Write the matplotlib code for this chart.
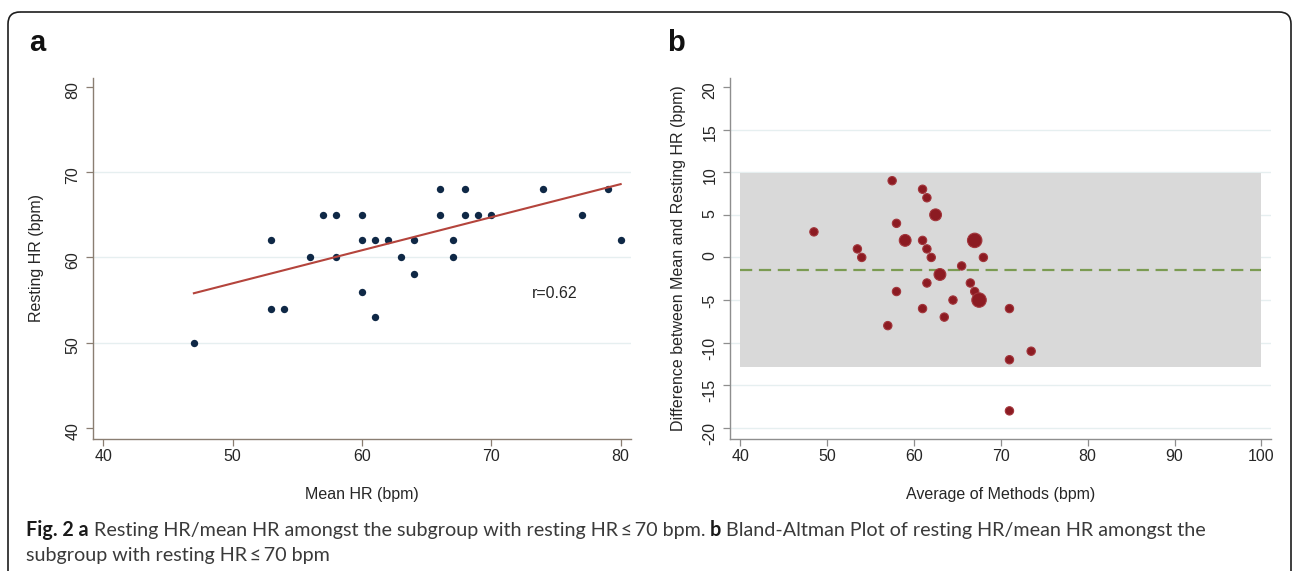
import matplotlib
matplotlib.use("Agg")
import matplotlib.pyplot as plt
from matplotlib.patches import FancyBboxPatch

plt.rcParams["axes.unicode_minus"] = False

# ---------------- data: panel a ----------------
mean_hr = [47, 53, 53, 54, 56, 57, 58, 58, 60, 60, 60, 61, 61, 62, 63,
           64, 64, 66, 66, 67, 67, 68, 68, 69, 70, 74, 77, 79, 80]
resting_hr = [50, 62, 54, 54, 60, 65, 65, 60, 65, 62, 56, 62, 53, 62, 60,
              62, 58, 68, 65, 62, 60, 68, 65, 65, 65, 68, 65, 68, 62]
fit_x = [47, 80]
fit_y = [55.8, 68.6]
r_text = "r=0.62"
a_xticks = [40, 50, 60, 70, 80]
a_yticks = [40, 50, 60, 70, 80]
a_ygrid = [50, 60, 70]

# ---------------- data: panel b ----------------
ba_avg = [48.5, 53.5, 54, 57.5, 58, 59, 58, 57, 61, 61.5, 62.5, 61, 61.5, 62,
          63, 61.5, 61, 63.5, 64.5, 65.5, 67, 68, 66.5, 67, 67.5, 71, 71, 73.5, 71]
ba_diff = [3, 1, 0, 9, 4, 2, -4, -8, 8, 7, 5, 2, 1, 0,
           -2, -3, -6, -7, -5, -1, 2, 0, -3, -4, -5, -6, -12, -11, -18]
ba_weight = [1, 1, 1, 1, 1, 2, 1, 1, 1, 1, 2, 1, 1, 1,
             2, 1, 1, 1, 1, 1, 3, 1, 1, 1, 3, 1, 1, 1, 1]
ba_mean_diff = -1.45
ba_upper = 9.9
ba_lower = -12.8
ba_span = [40, 100]
b_xticks = [40, 50, 60, 70, 80, 90, 100]
b_yticks = [-20, -15, -10, -5, 0, 5, 10, 15, 20]
b_ygrid = [-20, -15, -10, -5, 0, 5, 10, 15]

caption_line1 = [("Fig. 2 a", "bold"),
                 ("Resting HR/mean HR amongst the subgroup with resting HR\u2009\u2264\u200970 bpm.", "normal"),
                 ("b", "bold"),
                 ("Bland-Altman Plot of resting HR/mean HR amongst the", "normal")]
caption_line2 = [("subgroup with resting HR\u2009\u2264\u200970 bpm", "normal")]

# ---------------- figure ----------------
W, H = 1292, 571
fig = plt.figure(figsize=(W / 100, H / 100), dpi=100)
fig.patch.set_facecolor("white")

bg = fig.add_axes([0, 0, 1, 1], zorder=-5)
bg.set_xlim(0, W)
bg.set_ylim(H, 0)
bg.axis("off")
bg.add_patch(FancyBboxPatch((8, 12), 1283, 620,
                            boxstyle="round,pad=0,rounding_size=12",
                            fill=False, ec="#1e1e1e", lw=1.2))

SF = "Liberation Sans"
FS = 11.5
TXT = "#262626"


def style_axes(ax, spine_color):
    for s in ("top", "right"):
        ax.spines[s].set_visible(False)
    for s in ("left", "bottom"):
        ax.spines[s].set_color(spine_color)
        ax.spines[s].set_linewidth(1.0)
    ax.tick_params(direction="out", length=5, width=0.9, color=spine_color,
                   labelsize=FS, labelcolor=TXT)
    ax.tick_params(axis="x", pad=2.5)
    ax.tick_params(axis="y", pad=4, labelrotation=90)
    for lab in ax.get_xticklabels() + ax.get_yticklabels():
        lab.set_fontfamily(SF)
    ax.set_facecolor("none")


# ----- panel a -----
axA = fig.add_axes([93 / W, 1 - 439 / H, 538 / W, 361 / H])
axA.set_xlim(39.2, 80.8)
axA.set_ylim(38.7, 81.05)
axA.set_xticks(a_xticks)
axA.set_yticks(a_yticks)
for g in a_ygrid:
    axA.axhline(g, color="#e6eff0", lw=1.0, zorder=0)
axA.scatter(mean_hr, resting_hr, s=28, color="#0f2846", linewidths=0, zorder=3)
axA.plot(fit_x, fit_y, color="#b4443c", lw=1.5, zorder=4)
axA.text(73.1, 55.8, r_text, fontsize=FS, family=SF, color=TXT, va="center", ha="left")
style_axes(axA, "#8a7e72")
axA.set_xlabel("Mean HR (bpm)", fontsize=FS, family=SF, color=TXT, va="baseline")
axA.xaxis.set_label_coords(0.5, (439 - 498.5) / 361)
axA.set_ylabel("Resting HR (bpm)", fontsize=FS, family=SF, color=TXT, va="center")
axA.yaxis.set_label_coords((36 - 93) / 538, 0.5)

# ----- panel b -----
axB = fig.add_axes([730 / W, 1 - 439 / H, 541 / W, 361 / H])
axB.set_xlim(38.84, 101.1)
axB.set_ylim(-21.3, 21.05)
axB.set_xticks(b_xticks)
axB.set_yticks(b_yticks)
for g in b_ygrid:
    axB.axhline(g, color="#e6eff0", lw=1.0, zorder=0)
axB.fill_between(ba_span, [ba_lower] * 2, [ba_upper] * 2, color="#d9d9d9", lw=0, zorder=1)
axB.plot(ba_span, [ba_mean_diff] * 2, color="#7b9b52", lw=1.6, dashes=(5.5, 3), zorder=2)
axB.scatter(ba_avg, ba_diff, s=[36 * w for w in ba_weight], color="#8c1b22",
            edgecolors="#a2363c", linewidths=0.8, zorder=3)
style_axes(axB, "#8e8e8e")
axB.set_xlabel("Average of Methods (bpm)", fontsize=FS, family=SF, color=TXT, va="baseline")
axB.xaxis.set_label_coords(0.5, (439 - 498.5) / 361)
axB.set_ylabel("Difference between Mean and Resting HR (bpm)", fontsize=FS, family=SF,
               color=TXT, va="center")
axB.yaxis.set_label_coords((678 - 730) / 541, 0.5)

# panel letters
bg.text(29, 51, "a", fontsize=21, fontweight="bold", family=SF, color="#111", va="baseline")
bg.text(667, 51, "b", fontsize=21, fontweight="bold", family=SF, color="#111", va="baseline")

# ----- caption -----
CF = ["Lato", "DejaVu Sans"]
renderer = fig.canvas.get_renderer()


def text_w(s, size, weight):
    t = bg.text(0, 0, s, fontsize=size, fontweight=weight, family=CF)
    w = t.get_window_extent(renderer).width
    t.remove()
    return w


def line_width(runs, size):
    sp = text_w("x x", size, "normal") - text_w("xx", size, "normal")
    total = sum(text_w(s, size, w) for s, w in runs)
    return total + sp * (len(runs) - 1)


size0 = 14.0
target = 1213 - 26
cap_size = size0 * target / line_width(caption_line1, size0)


def draw_runs(runs, x, y, size):
    sp = text_w("x x", size, "normal") - text_w("xx", size, "normal")
    for s, w in runs:
        col = "#1a1a1a" if w == "bold" else "#3a3a3a"
        t = bg.text(x, y, s, fontsize=size, fontweight=w, family=CF, color=col,
                    va="baseline", ha="left")
        x += t.get_window_extent(renderer).width + sp


draw_runs(caption_line1, 26, 536, cap_size)
draw_runs(caption_line2, 26, 561, cap_size)

fig.savefig("out.png", dpi=100, facecolor="white")
